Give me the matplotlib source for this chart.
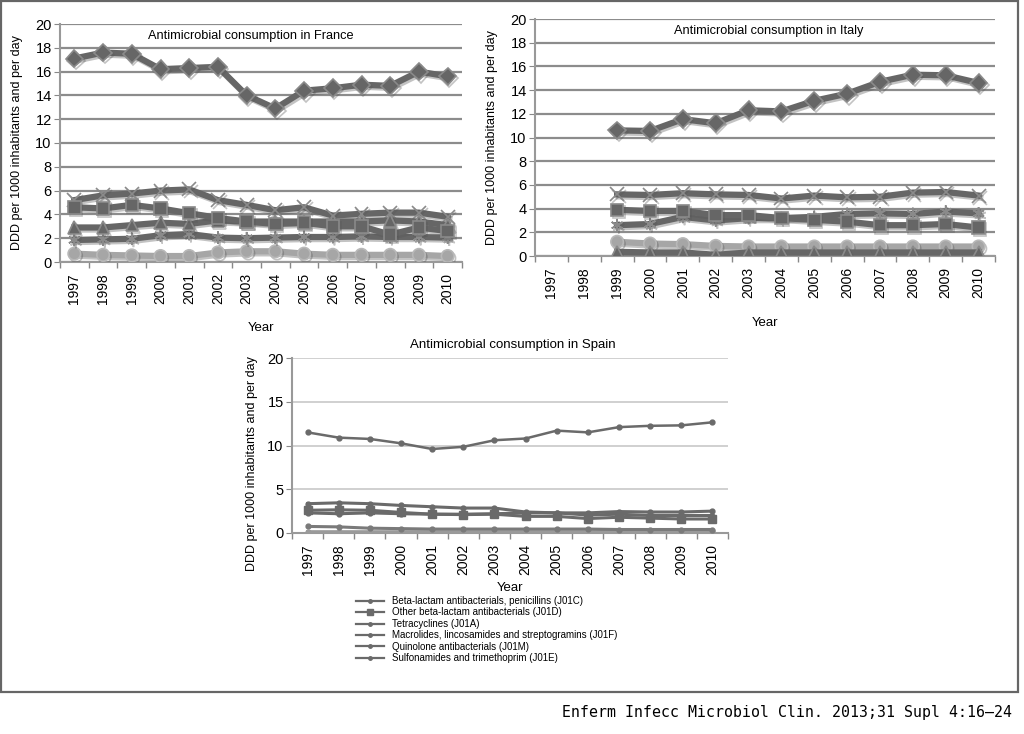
import numpy as np
import matplotlib
matplotlib.use("Agg")
import matplotlib.pyplot as plt
import matplotlib.patheffects as pe
from matplotlib.lines import Line2D
from matplotlib.patches import Rectangle

plt.rcParams['font.family'] = ['Liberation Sans', 'DejaVu Sans']

years = ['1997', '1998', '1999', '2000', '2001', '2002', '2003', '2004',
         '2005', '2006', '2007', '2008', '2009', '2010']

series_labels = [
    'Beta-lactam antibacterials, penicillins (J01C)',
    'Other beta-lactam antibacterials (J01D)',
    'Tetracyclines (J01A)',
    'Macrolides, lincosamides and streptogramins (J01F)',
    'Quinolone antibacterials (J01M)',
    'Sulfonamides and trimethoprim (J01E)',
]

nan = float('nan')

# France
fr_J01C = [17.1, 17.6, 17.5, 16.2, 16.3, 16.4, 14.0, 12.9, 14.4, 14.6, 14.9, 14.8, 16.0, 15.6]
fr_J01D = [4.6, 4.5, 4.8, 4.5, 4.1, 3.7, 3.4, 3.2, 3.3, 3.0, 3.0, 2.3, 2.9, 2.6]
fr_J01A = [2.9, 2.9, 3.1, 3.3, 3.2, 3.5, 3.4, 3.4, 3.4, 3.4, 3.4, 3.5, 3.4, 3.1]
fr_J01F = [5.2, 5.6, 5.75, 6.0, 6.1, 5.2, 4.8, 4.35, 4.6, 3.9, 4.05, 4.15, 4.15, 3.8]
fr_J01M = [1.85, 1.9, 1.95, 2.25, 2.35, 2.05, 2.0, 2.05, 2.1, 2.1, 2.15, 2.1, 2.1, 2.05]
fr_J01E = [0.7, 0.6, 0.55, 0.5, 0.5, 0.8, 0.9, 0.9, 0.7, 0.6, 0.6, 0.6, 0.6, 0.5]

# Italy (no data for 1997-1998)
it_J01C = [nan, nan, 10.6, 10.55, 11.55, 11.2, 12.3, 12.2, 13.1, 13.7, 14.7, 15.3, 15.25, 14.6]
it_J01D = [nan, nan, 3.9, 3.8, 3.8, 3.45, 3.45, 3.2, 3.05, 2.9, 2.6, 2.6, 2.7, 2.4]
it_J01A = [nan, nan, 0.35, 0.3, 0.3, 0.1, 0.3, 0.3, 0.3, 0.3, 0.3, 0.3, 0.3, 0.3]
it_J01F = [nan, nan, 5.2, 5.15, 5.3, 5.2, 5.15, 4.85, 5.1, 4.95, 5.0, 5.35, 5.4, 5.1]
it_J01M = [nan, nan, 2.6, 2.7, 3.3, 3.0, 3.2, 3.2, 3.3, 3.55, 3.6, 3.55, 3.75, 3.6]
it_J01E = [nan, nan, 1.2, 1.05, 1.0, 0.85, 0.8, 0.8, 0.8, 0.8, 0.8, 0.8, 0.8, 0.8]

# Spain
es_J01C = [11.5, 10.9, 10.75, 10.25, 9.6, 9.85, 10.6, 10.8, 11.7, 11.5, 12.1, 12.25, 12.3, 12.65]
es_J01D = [2.6, 2.65, 2.6, 2.35, 2.15, 2.1, 2.15, 1.9, 1.9, 1.65, 1.8, 1.7, 1.6, 1.6]
es_J01A = [0.15, 0.15, 0.15, 0.15, 0.15, 0.15, 0.15, 0.15, 0.15, 0.15, 0.2, 0.2, 0.2, 0.2]
es_J01F = [3.35, 3.45, 3.35, 3.15, 3.0, 2.85, 2.85, 2.4, 2.3, 2.3, 2.45, 2.4, 2.4, 2.5]
es_J01M = [2.3, 2.2, 2.3, 2.2, 2.15, 2.15, 2.2, 2.3, 2.3, 2.05, 2.15, 2.0, 2.0, 2.0]
es_J01E = [0.75, 0.7, 0.55, 0.5, 0.45, 0.45, 0.45, 0.45, 0.45, 0.45, 0.4, 0.4, 0.4, 0.4]

markers = ['D', 's', '^', 'x', (6, 2, 0), 'o']
dark = '#666666'
light = '#a6a6a6'
colors = [dark, dark, dark, dark, dark, light]

W, H = 1024, 734
fig = plt.figure(figsize=(W / 100, H / 100), dpi=100)
fig.patch.set_facecolor('white')


def rect(x0, y0, x1, y1):
    return [x0 / W, 1 - y1 / H, (x1 - x0) / W, (y1 - y0) / H]


def style_axes(ax, yticks, gridcolor, gridlw, ylab_xy, xlab_y):
    ax.set_xlim(-0.5, len(years) - 0.5)
    ax.set_ylim(0, 20)
    ax.set_yticks(yticks)
    ax.set_xticks(range(len(years)))
    ax.set_xticklabels(years, rotation=90, fontsize=10)
    ax.set_xticks(np.arange(-0.5, len(years), 1.0), minor=True)
    ax.tick_params(axis='x', which='major', length=0, pad=8)
    ax.tick_params(axis='x', which='minor', length=4, color='#888888', width=1)
    ax.tick_params(axis='y', which='major', length=4, color='#888888', labelsize=10.5, pad=2)
    for s in ['top', 'right']:
        ax.spines[s].set_visible(False)
    for s in ['left', 'bottom']:
        ax.spines[s].set_color('#999999')
        ax.spines[s].set_linewidth(1.5)
    ax.yaxis.grid(True, color=gridcolor, linewidth=gridlw)
    ax.set_axisbelow(True)
    ax.set_ylabel('DDD per 1000 inhabitants and per day', fontsize=9)
    ax.yaxis.set_label_coords(ylab_xy[0], ylab_xy[1])
    ax.set_xlabel('Year', fontsize=9.5)
    ax.xaxis.set_label_coords(0.5, xlab_y)


shadow = [pe.SimpleLineShadow(offset=(1.2, -1.5), shadow_color='#555555', alpha=0.35), pe.Normal()]


def draw_thick(ax, data):
    x = np.arange(len(years))
    for i, vals in enumerate(data):
        ms = 9 if markers[i] != 'x' else 10
        ax.plot(x, vals, color=colors[i], linewidth=4.5, marker=markers[i], markersize=ms,
                markeredgecolor='#8a8a8a' if i < 5 else '#b8b8b8', markeredgewidth=1.2,
                path_effects=shadow, zorder=3 + (5 - i) * 0.1)


# France
axF = fig.add_axes(rect(60, 24, 462, 262))
style_axes(axF, range(0, 21, 2), '#8c8c8c', 1.6, (-0.092, 0.5), -0.252)
draw_thick(axF, [fr_J01C, fr_J01D, fr_J01A, fr_J01F, fr_J01M, fr_J01E])
axF.text(0.475, 0.95, 'Antimicrobial consumption in France', transform=axF.transAxes,
         ha='center', va='center', fontsize=9.2)

# Italy
axI = fig.add_axes(rect(535, 19, 995, 256))
style_axes(axI, range(0, 21, 2), '#8c8c8c', 1.6, (-0.08, 0.5), -0.257)
draw_thick(axI, [it_J01C, it_J01D, it_J01A, it_J01F, it_J01M, it_J01E])
axI.text(0.509, 0.949, 'Antimicrobial consumption in Italy', transform=axI.transAxes,
         ha='center', va='center', fontsize=9.2)

# Spain
axS = fig.add_axes(rect(292, 358, 728, 533))
style_axes(axS, range(0, 21, 5), '#c8c8c8', 1.2, (-0.078, 0.394), -0.28)
axS.tick_params(axis='y', labelsize=10.5)
xs = np.arange(len(years))
es_data = [es_J01C, es_J01D, es_J01A, es_J01F, es_J01M, es_J01E]
es_colors = ['#6a6a6a', '#6a6a6a', '#9a9a9a', '#6a6a6a', '#6a6a6a', '#7a7a7a']
for i, vals in enumerate(es_data):
    ms = 6 if markers[i] == 's' else 3.5
    axS.plot(xs, vals, color=es_colors[i], linewidth=2.2 if i != 0 else 1.8,
             marker='s' if markers[i] == 's' else 'o', markersize=ms,
             markeredgecolor=es_colors[i], label=series_labels[i], zorder=3)
axS.text(0.506, 1.0 + 13 / 175, 'Antimicrobial consumption in Spain', transform=axS.transAxes,
         ha='center', va='center', fontsize=9.5)

leg_handles = [Line2D([0], [0], color='#6a6a6a', linewidth=1.6,
                      marker='s' if markers[i] == 's' else 'o',
                      markersize=4 if markers[i] == 's' else 2.5,
                      markeredgecolor='#6a6a6a') for i in range(6)]
fig.legend(leg_handles, series_labels, loc='upper left',
           bbox_to_anchor=(356 / W, 1 - 596 / H), frameon=False, fontsize=7,
           handlelength=2.9, handletextpad=0.8, labelspacing=0.15, borderpad=0,
           borderaxespad=0)

# outer frame
fig.patches.append(Rectangle((1 / W, 1 - 692 / H), 1017 / W, 691 / H, transform=fig.transFigure,
                             fill=False, edgecolor='#666666', linewidth=1.6))

fig.text(1012 / W, 1 - 712 / H, 'Enferm Infecc Microbiol Clin. 2013;31 Supl 4:16\u201324',
         ha='right', va='center', fontsize=10.7, family='DejaVu Sans Mono')

fig.savefig('out.png', dpi=100, facecolor='white')
